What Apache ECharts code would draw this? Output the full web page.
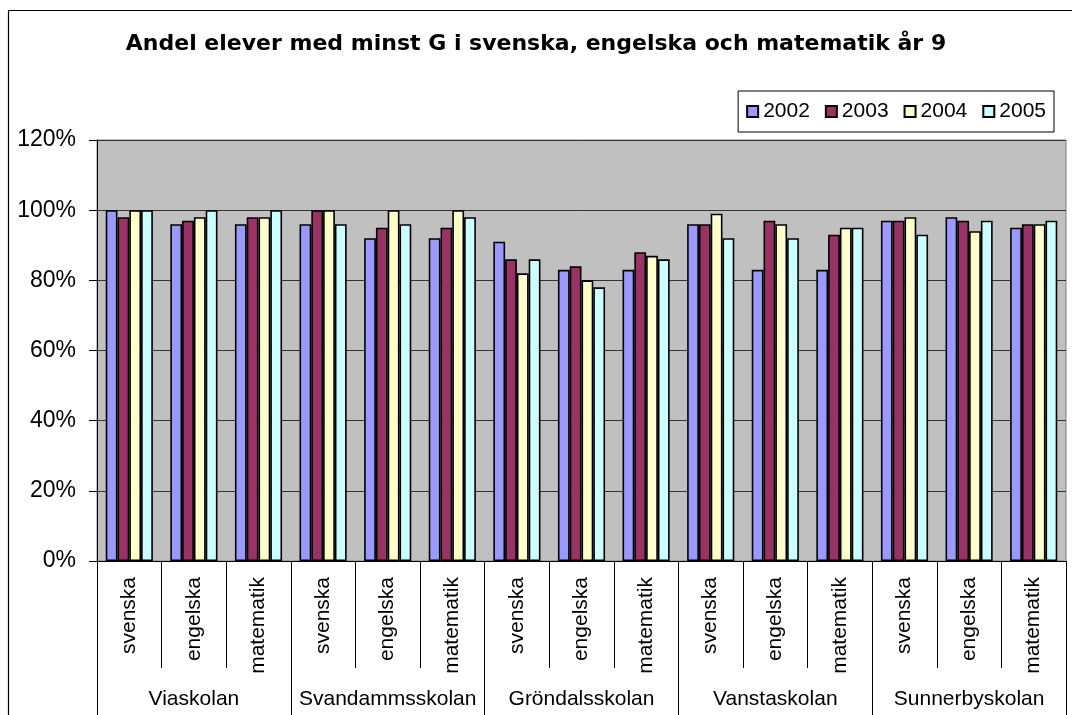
<!DOCTYPE html>
<html>
<head>
<meta charset="utf-8">
<script src="https://cdn.jsdelivr.net/npm/echarts@6/dist/echarts.min.js"></script>
<style>
    html, body { margin: 0; padding: 0; background: #fff; }
    #chartBox { width: 1072px; height: 715px; }
</style>
</head>
<body>
<div id="chartBox"></div>
<script>
    // skolor och ämnen (två nivåer på x-axeln)
    var schools = ['Viaskolan', 'Svandammsskolan', 'Gröndalsskolan', 'Vanstaskolan', 'Sunnerbyskolan'];
    var subjects = ['svenska', 'engelska', 'matematik'];
    var years = ['2002', '2003', '2004', '2005'];
    var colors = ['#9999FF', '#993366', '#FFFFCC', '#CCFFFF'];

    // andel i procent, ordning: skola -> svenska, engelska, matematik
    var y2002 = [100, 96, 96, 96, 92, 92, 91, 83, 83, 96, 83, 83, 97, 98, 95];
    var y2003 = [98, 97, 98, 100, 95, 95, 86, 84, 88, 96, 97, 93, 97, 97, 96];
    var y2004 = [100, 98, 98, 100, 100, 100, 82, 80, 87, 99, 96, 95, 98, 94, 96];
    var y2005 = [100, 100, 100, 96, 96, 98, 86, 78, 86, 92, 92, 95, 93, 97, 97];

    var yTicks = [0, 20, 40, 60, 80, 100, 120];

    var font = 'Liberation Sans, Arial, sans-serif';

    var categories = [];
    for (var s = 0; s < schools.length; s++) {
        for (var j = 0; j < subjects.length; j++) {
            categories.push(subjects[j]);
        }
    }

    var values = [y2002, y2003, y2004, y2005];
    var seriesData = [];
    for (var i = 0; i < years.length; i++) {
        seriesData.push({
            name: years[i],
            type: 'bar',
            xAxisIndex: 0,
            barGap: '0%',
            barCategoryGap: '27%',
            itemStyle: {
                color: colors[i],
                borderColor: '#000',
                borderWidth: 1.6
            },
            data: values[i]
        });
    }

    var option = {
        animation: false,
        textStyle: { fontFamily: font },
        title: {
            text: 'Andel elever med minst G i svenska, engelska och matematik år 9',
            left: 'center',
            top: 33,
            padding: 0,
            textStyle: { fontSize: 22, fontWeight: 'bold', color: '#000', fontFamily: 'DejaVu Sans, sans-serif' }
        },
        legend: {
            data: years,
            right: 18,
            top: 91,
            padding: [10, 8],
            itemWidth: 11,
            itemHeight: 11,
            itemGap: 15,
            icon: 'rect',
            borderColor: '#000',
            borderWidth: 1,
            textStyle: { fontSize: 21, color: '#000', fontFamily: font }
        },
        grid: {
            left: 97,
            right: 6,
            top: 140,
            bottom: 154,
            show: true,
            backgroundColor: '#C0C0C0',
            borderColor: '#808080',
            borderWidth: 1
        },
        xAxis: [
            {
                type: 'category',
                data: categories,
                position: 'bottom',
                axisLine: { lineStyle: { color: '#000', width: 1 } },
                axisTick: { show: true, interval: 0, alignWithLabel: false, length: 107, lineStyle: { color: '#000', width: 1 } },
                axisLabel: {
                    interval: 0,
                    rotate: 90,
                    margin: 16,
                    fontSize: 21,
                    color: '#000',
                    fontFamily: font
                }
            },
            {
                type: 'category',
                data: schools,
                position: 'bottom',
                axisLine: { show: false },
                axisTick: { show: true, interval: 0, alignWithLabel: false, length: 170, lineStyle: { color: '#000', width: 1 } },
                axisLabel: {
                    interval: 0,
                    margin: 128,
                    fontSize: 21,
                    color: '#000',
                    fontFamily: font
                }
            }
        ],
        yAxis: {
            type: 'value',
            min: yTicks[0],
            max: yTicks[yTicks.length - 1],
            interval: 20,
            axisLine: { show: true, lineStyle: { color: '#000' } },
            axisTick: { show: true, length: 8, lineStyle: { color: '#000' } },
            axisLabel: {
                formatter: '{value}%',
                margin: 21,
                fontSize: 23,
                color: '#000',
                fontFamily: font
            },
            splitLine: { show: true, lineStyle: { color: '#333', width: 1 } }
        },
        graphic: [
            {
                type: 'rect',
                silent: true,
                z: -1,
                shape: { x: 8.5, y: 10.5, width: 1200, height: 900 },
                style: { fill: 'none', stroke: '#000', lineWidth: 1.2 }
            }
        ],
        series: seriesData
    };

    echarts.init(document.getElementById('chartBox')).setOption(option);
</script>
</body>
</html>
